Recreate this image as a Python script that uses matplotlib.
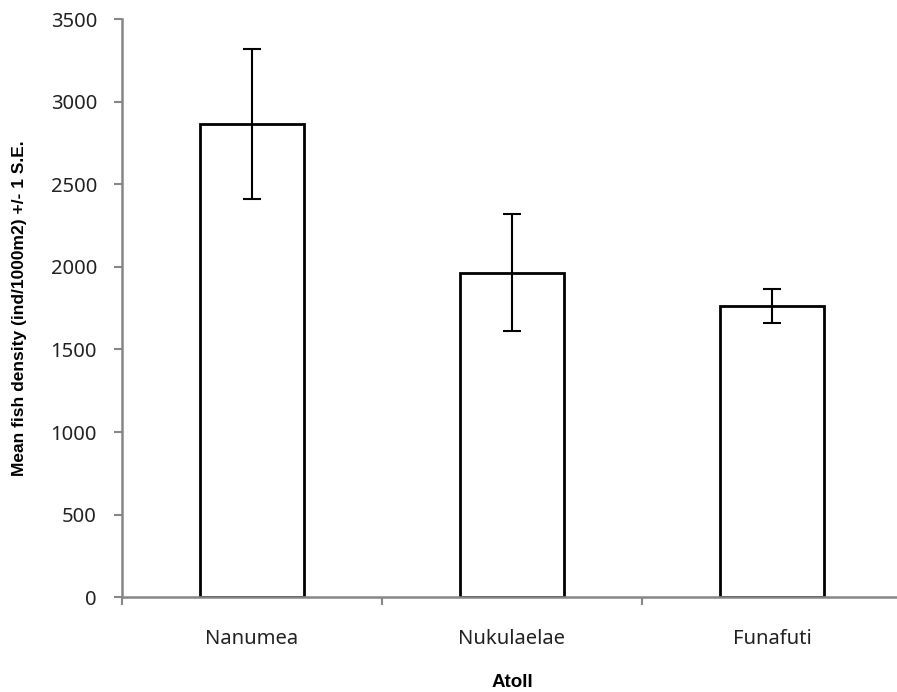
import matplotlib.pyplot as plt

plt.rcParams['font.family'] = ['Noto Sans', 'DejaVu Sans']

# dane
atolls = ['Nanumea', 'Nukulaelae', 'Funafuti']
mean_density = [2865, 1965, 1765]
se = [455, 355, 103]

grey = '#868686'

fig = plt.figure(figsize=(8.97, 6.92), dpi=100)
ax = fig.add_axes([122 / 897, 94.7 / 692, 780 / 897, 578.3 / 692])

x = range(len(atolls))
ax.bar(x, mean_density, width=0.40, color='white', edgecolor='black', linewidth=2.0, zorder=2)
ax.errorbar(x, mean_density, yerr=se, fmt='none', ecolor='black', elinewidth=1.5,
            capsize=6.5, capthick=1.5, zorder=3)

ax.set_xlim(-0.5, 2.5)
ax.set_ylim(0, 3500)
ax.set_yticks(range(0, 3501, 500))

# kategorie: znaczniki na granicach, etykiety na srodku
ax.set_xticks([-0.5, 0.5, 1.5, 2.5])
ax.set_xticklabels([])
ax.set_xticks(list(x), minor=True)
ax.set_xticklabels(atolls, minor=True)
ax.tick_params(axis='x', which='minor', length=0, pad=23, labelsize=14.5, colors='#222222')
ax.tick_params(axis='x', which='major', length=6, width=1.5, color=grey, direction='out')
ax.tick_params(axis='y', length=6, width=1.5, color=grey, direction='out', pad=12,
               labelsize=14.5, labelcolor='#222222')

for side in ['top', 'right']:
    ax.spines[side].set_visible(False)
for side in ['left', 'bottom']:
    ax.spines[side].set_color(grey)
    ax.spines[side].set_linewidth(1.8)

ax.set_ylabel('Mean fish density (ind/1000m2) +/- 1 S.E.', fontsize=12.5, fontweight='bold',
              family=['Liberation Sans'], va='center')
ax.yaxis.set_label_coords(-0.1308, 0.5)
ax.set_xlabel('Atoll', fontsize=13.5, fontweight='bold', family=['Liberation Sans'], va='center')
ax.xaxis.set_label_coords(0.5, -0.148)

fig.savefig('out.png', dpi=100)
